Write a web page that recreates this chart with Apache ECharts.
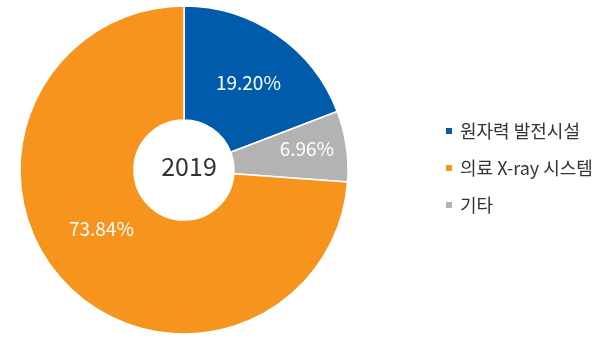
<!DOCTYPE html>
<html>
<head>
<meta charset="utf-8">
<script src="https://cdn.jsdelivr.net/npm/echarts@6/dist/echarts.min.js"></script>
<style>
html,body{margin:0;padding:0;background:#fff;}
#chart{width:600px;height:342px;}
</style>
</head>
<body>
<div id="chart"></div>
<script>
// Data (clockwise order from 12 o'clock)
const categories = ['원자력 발전시설', '기타', '의료 X-ray 시스템'];
const values = [19.20, 6.96, 73.84];
const legendOrder = ['원자력 발전시설', '의료 X-ray 시스템', '기타'];
const centerLabel = '2019';

const colors = ['#005BAA', '#B3B3B3', '#F7941E'];
const labelShift = [[2, 3], [14, -5], [-2, -16]];

const chart = echarts.init(document.getElementById('chart'));
const font = '"Noto Sans CJK KR", "Noto Sans", sans-serif';
chart.setOption({
  animation: false,
  title: {
    text: centerLabel,
    left: 184, top: 149,
    textAlign: 'center',
    textStyle: {fontFamily: font, fontSize: 25, fontWeight: 'normal', color: '#333'}
  },
  legend: {
    orient: 'vertical',
    left: 444, top: 122,
    itemWidth: 8, itemHeight: 8, itemGap: 19,
    icon: 'rect',
    padding: 0,
    data: legendOrder,
    textStyle: {fontFamily: font, fontSize: 18, color: '#333', padding: [0,0,0,2]}
  },
  series: [{
    type: 'pie',
    center: [184, 170],
    radius: [50, 164],
    startAngle: 90,
    clockwise: true,
    avoidLabelOverlap: false,
    itemStyle: {borderColor: '#fff', borderWidth: 1.5},
    label: {
      show: true, position: 'inside',
      formatter: p => p.value.toFixed(2) + '%',
      color: '#fff', fontFamily: font, fontSize: 19
    },
    labelLayout: p => ({dx: labelShift[p.dataIndex][0], dy: labelShift[p.dataIndex][1]}),
    labelLine: {show: false},
    data: categories.map((c, i) => ({
      name: c, value: values[i],
      itemStyle: {color: colors[i]}
    }))
  }]
});
</script>
</body>
</html>
